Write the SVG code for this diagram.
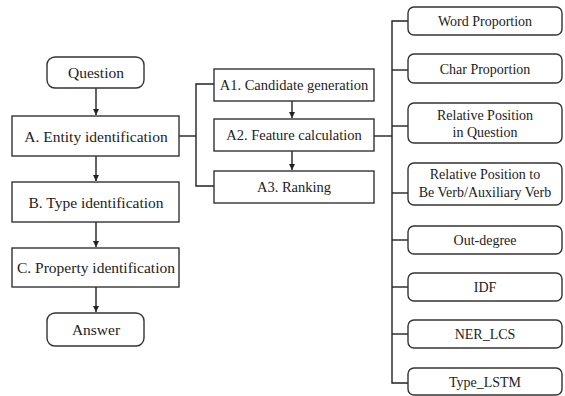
<svg xmlns="http://www.w3.org/2000/svg" width="565" height="396" viewBox="0 0 565 396">
<style>
.b{fill:#fff;stroke:#333;stroke-width:1.4}
text{font-family:'Liberation Serif','DejaVu Serif',serif;fill:#222;text-anchor:middle}
.t{font-size:15.5px}
.m{font-size:14.5px}
.s{font-size:14px}
.c{fill:none;stroke:#222;stroke-width:1.4}
</style>
<defs>
<marker id="ar" markerWidth="8" markerHeight="8" refX="7" refY="4" orient="auto" markerUnits="userSpaceOnUse">
<path d="M1,1 L7,4 L1,7 Z" fill="#222"/>
</marker>
</defs>
<rect width="565" height="396" fill="#fff"/>
<g id="connectors">
<line class="c" x1="96" y1="88" x2="96" y2="115" marker-end="url(#ar)"/>
<line class="c" x1="96" y1="156" x2="96" y2="181" marker-end="url(#ar)"/>
<line class="c" x1="96" y1="222" x2="96" y2="247" marker-end="url(#ar)"/>
<line class="c" x1="96" y1="287" x2="96" y2="312" marker-end="url(#ar)"/>
<line class="c" x1="179" y1="136" x2="196" y2="136"/>
<polyline class="c" points="214,84 196,84 196,186 214,186"/>
<line class="c" x1="292" y1="101" x2="292" y2="118" marker-end="url(#ar)"/>
<line class="c" x1="292" y1="151" x2="292" y2="170" marker-end="url(#ar)"/>
<line class="c" x1="374" y1="136" x2="392" y2="136"/>
<polyline class="c" points="408,21 392,21 392,383 408,383"/>
<line class="c" x1="392" y1="70" x2="408" y2="70"/>
<line class="c" x1="392" y1="126" x2="408" y2="126"/>
<line class="c" x1="392" y1="193" x2="408" y2="193"/>
<line class="c" x1="392" y1="240" x2="408" y2="240"/>
<line class="c" x1="392" y1="287" x2="408" y2="287"/>
<line class="c" x1="392" y1="334" x2="408" y2="334"/>
</g>
<g id="question"><rect class="b" x="47" y="57" width="97" height="31" rx="8"/><text class="t" x="96" y="78">Question</text></g>
<g id="entity"><rect class="b" x="12" y="116" width="167" height="40"/><text class="t" x="96" y="142">A. Entity identification</text></g>
<g id="type"><rect class="b" x="12" y="182" width="167" height="40"/><text class="t" x="96" y="208">B. Type identification</text></g>
<g id="property"><rect class="b" x="12" y="248" width="167" height="39"/><text class="t" x="96" y="273">C. Property identification</text></g>
<g id="answer"><rect class="b" x="47" y="313" width="97" height="33" rx="8"/><text class="t" x="96" y="335">Answer</text></g>
<g id="a1"><rect class="b" x="214" y="69" width="160" height="32"/><text class="m" x="294" y="90">A1. Candidate generation</text></g>
<g id="a2"><rect class="b" x="214" y="119" width="160" height="32"/><text class="m" x="294" y="140">A2. Feature calculation</text></g>
<g id="a3"><rect class="b" x="214" y="171" width="160" height="32"/><text class="m" x="294" y="192">A3. Ranking</text></g>
<g id="word"><rect class="b" x="408" y="7" width="154" height="28" rx="6"/><text class="s" x="485" y="26">Word Proportion</text></g>
<g id="char"><rect class="b" x="408" y="54" width="154" height="29" rx="6"/><text class="s" x="485" y="74">Char Proportion</text></g>
<g id="relq"><rect class="b" x="408" y="103" width="154" height="40" rx="6"/><text class="s" x="485" y="120">Relative Position</text><text class="s" x="485" y="137">in Question</text></g>
<g id="relv"><rect class="b" x="408" y="163" width="154" height="42" rx="6"/><text class="s" x="485" y="179">Relative Position to</text><text class="s" x="485" y="197">Be Verb/Auxiliary Verb</text></g>
<g id="outdeg"><rect class="b" x="408" y="226" width="154" height="28" rx="6"/><text class="s" x="485" y="245">Out-degree</text></g>
<g id="idf"><rect class="b" x="408" y="273" width="154" height="28" rx="6"/><text class="s" x="485" y="292">IDF</text></g>
<g id="ner"><rect class="b" x="408" y="320" width="154" height="28" rx="6"/><text class="s" x="485" y="339">NER_LCS</text></g>
<g id="lstm"><rect class="b" x="408" y="368" width="154" height="27" rx="6"/><text class="s" x="485" y="387">Type_LSTM</text></g>
</svg>
